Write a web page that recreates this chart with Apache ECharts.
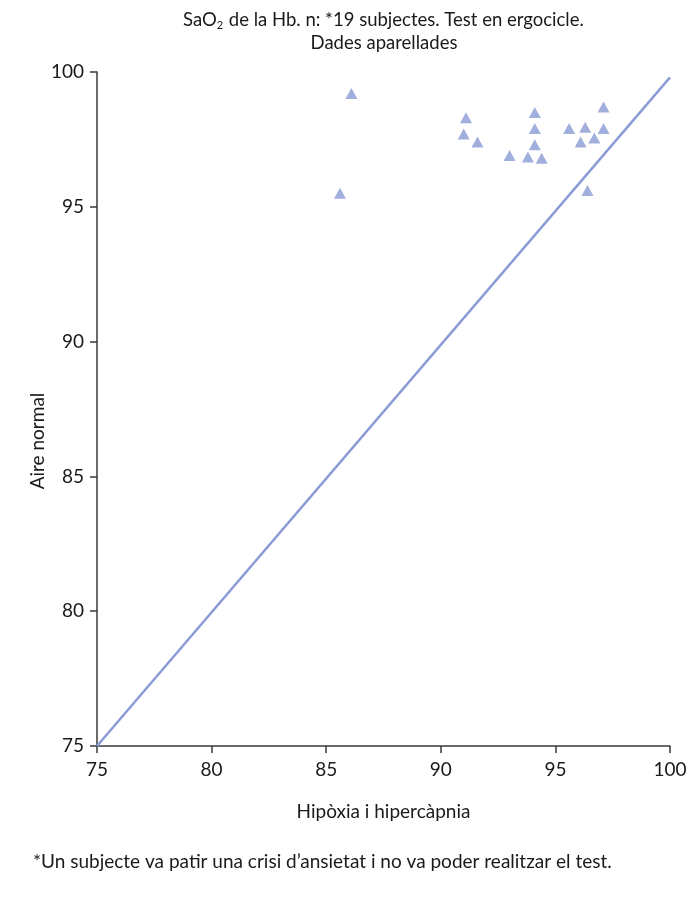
<!DOCTYPE html>
<html>
<head>
<meta charset="utf-8">
<script src="https://cdn.jsdelivr.net/npm/echarts@6/dist/echarts.min.js"></script>
<style>
  html, body { margin: 0; background: #fff; }
  #chart { width: 700px; height: 899px; }
</style>
</head>
<body>
<div id="chart"></div>
<script>
// SaO2 per subject: x = hypoxia + hypercapnia, y = normal air
const hipoxia = [86.1, 85.6, 91.1, 91.0, 91.6, 93.0, 93.8, 94.4, 94.1, 94.1, 94.1, 95.6, 96.3, 97.1, 97.1, 96.1, 96.7, 96.4];
const aireNormal = [99.2, 95.5, 98.3, 97.7, 97.4, 96.9, 96.85, 96.8, 98.5, 97.9, 97.3, 97.9, 97.95, 98.7, 97.9, 97.4, 97.55, 95.6];

// reference line (equality)
const lineX = [75, 100];
const lineY = [75, 99.8];

const axisMin = 75;
const axisMax = 100;
const axisStep = 5;

const FONT = 'Lato';
const BLUE = '#8a9bd5';

const chart = echarts.init(document.getElementById('chart'));

const points = hipoxia.map((x, i) => [x, aireNormal[i]]);
const linePts = lineX.map((x, i) => [x, lineY[i]]);

const axisCommon = {
    type: 'value',
    min: axisMin,
    max: axisMax,
    interval: axisStep,
    splitLine: { show: false },
    axisLine: { show: true, onZero: false, lineStyle: { color: '#3a3a3a', width: 1.5 } },
    axisTick: { show: true, inside: false, length: 7, lineStyle: { color: '#3a3a3a', width: 1.5 } },
    axisLabel: { color: '#1a1a1a', fontFamily: FONT, fontSize: 19 }
};

const option = {
    animation: false,
    grid: { left: 97, right: 30, top: 72, bottom: 153 },
    xAxis: Object.assign({}, axisCommon, {
        name: 'Hipòxia i hipercàpnia',
        nameLocation: 'middle',
        nameGap: 56,
        nameTextStyle: { color: '#1a1a1a', fontFamily: FONT, fontSize: 19 },
        axisLabel: Object.assign({}, axisCommon.axisLabel, { margin: 14 })
    }),
    yAxis: Object.assign({}, axisCommon, {
        axisLabel: Object.assign({}, axisCommon.axisLabel, { margin: 13 })
    }),
    graphic: [
        {
            type: 'text',
            left: 183,
            top: 11,
            style: {
                text: '{a|SaO}{s|2}{a| de la Hb. n: *19 subjectes. Test en ergocicle.}',
                rich: {
                    a: { fontFamily: FONT, fontSize: 18.5, fill: '#1a1a1a' },
                    s: { fontFamily: FONT, fontSize: 11, fill: '#1a1a1a', padding: [10, 1, 0, 0] }
                }
            }
        },
        {
            type: 'text',
            x: 384,
            y: 34,
            style: {
                text: 'Dades aparellades',
                fontFamily: FONT, fontSize: 18.5, fill: '#1a1a1a',
                textAlign: 'center'
            }
        },
        {
            type: 'text',
            x: 38,
            y: 441,
            rotation: Math.PI / 2,
            style: {
                text: 'Aire normal',
                fontFamily: FONT, fontSize: 19, fill: '#1a1a1a',
                textAlign: 'center', textVerticalAlign: 'middle'
            }
        },
        {
            type: 'text',
            x: 33,
            y: 852,
            style: {
                text: '*Un subjecte va patir una crisi d\u2019ansietat i no va poder realitzar el test.',
                fontFamily: FONT, fontSize: 19, fill: '#1a1a1a'
            }
        }
    ],
    series: [
        {
            type: 'line',
            data: linePts,
            symbol: 'none',
            lineStyle: { color: BLUE, width: 2.5 },
            z: 1
        },
        {
            type: 'scatter',
            data: points,
            symbol: 'triangle',
            symbolSize: [12, 11],
            itemStyle: { color: BLUE },
            z: 2
        }
    ]
};

chart.setOption(option);
</script>
</body>
</html>
